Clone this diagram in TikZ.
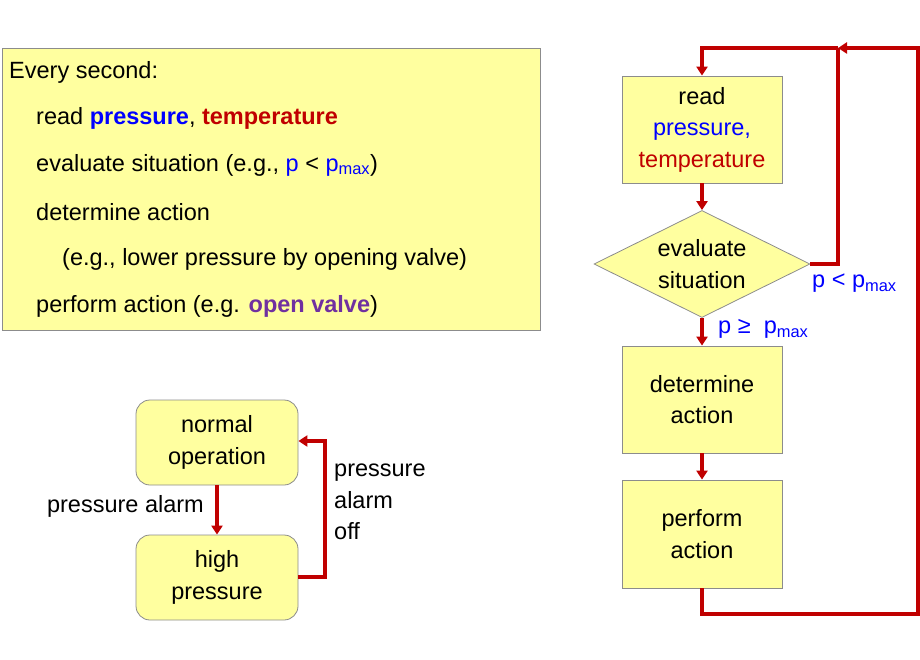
\documentclass[tikz,border=0pt]{standalone}
\usepackage{fontspec}
\setmainfont{Liberation Sans}
\usetikzlibrary{shapes.geometric,arrows.meta}
\definecolor{ybox}{HTML}{FFFF9F}
\definecolor{rline}{HTML}{C00000}
\definecolor{bl}{HTML}{0000FF}
\definecolor{pu}{HTML}{7030A0}
\begin{document}
\begin{tikzpicture}[x=1pt,y=-1pt,
  box/.style={draw=black!45,fill=ybox,line width=0.8pt},
  conn/.style={draw=rline,line width=3.2pt},
  arr/.style={conn,-{Triangle[length=9pt,width=11pt]}},
  txt/.style={font=\fontsize{23.5}{31.5}\selectfont,align=center,inner sep=0pt},
  lt/.style={font=\fontsize{23.5}{28}\selectfont,anchor=west,inner sep=0pt}]
\useasboundingbox (0,0) rectangle (920,660);
% text box
\node[box,minimum width=538pt,minimum height=282pt,inner sep=0pt] (tb) at (271,189) {};
\node[lt] (l1) at (9,72) {Every second:};
\node[lt] (l2) at (36,118) {read \textcolor{bl}{\textbf{pressure}}, \textcolor{rline}{\textbf{temperature}}};
\node[lt] (l3) at (36,165) {evaluate situation (e.g., \textcolor{bl}{p} < \textcolor{bl}{p\textsubscript{max}})};
\node[lt] (l4) at (36,212) {determine action};
\node[lt] (l5) at (62,259) {(e.g., lower pressure by opening valve)};
\node[lt] (l6) at (36,306) {perform action (e.g. \textcolor{pu}{\textbf{open valve}})};
% flowchart
\node[box,txt,minimum width=160pt,minimum height=107pt] (rd) at (702,129.5) {read\\\textcolor{bl}{pressure,}\\\textcolor{rline}{temperature}};
\node[box,txt,diamond,aspect=2.03,minimum width=216pt,minimum height=107pt,inner sep=0pt] (ev) at (702,264) {evaluate\\situation};
\node[box,txt,minimum width=160pt,minimum height=107pt] (dt) at (702,399.5) {determine\\action};
\node[box,txt,minimum width=160pt,minimum height=108pt] (pf) at (702,534) {perform\\action};
\coordinate (j) at (838,48);
\coordinate (tl) at (702,48);
\draw[arr] (rd.south) -- (ev.north);
\draw[arr] (ev.south) -- (dt.north);
\draw[arr] (dt.south) -- (pf.north);
\draw[conn] (ev.east) -| (j);
\draw[arr] (pf.south) -- (702,614) -- (918,614) -- (918,48) -- (j);
\draw[arr] (j) -- (tl) -- (rd.north);
\node[lt,text=bl] (c1) at (812,283) {p < p\textsubscript{max}};
\node[lt,text=bl] (c2) at (718,329) {p ≥ \ p\textsubscript{max}};
% state diagram
\node[box,txt,rounded corners=14pt,minimum width=162pt,minimum height=85pt] (no) at (217,442.5) {normal\\operation};
\node[box,txt,rounded corners=14pt,minimum width=162pt,minimum height=85pt] (hp) at (217,577.5) {high\\pressure};
\draw[arr] (no.south) -- (hp.north);
\node[font=\fontsize{23.5}{28}\selectfont,anchor=east,inner sep=0pt] (pa) at (204,506) {pressure alarm};
\coordinate (r1) at (325,577);
\draw[arr] (hp.east |- r1) -- (r1) -- (325,441) -- (no.east |- 0,441);
\node[font=\fontsize{23.5}{31.5}\selectfont,align=left,anchor=north west,inner sep=0pt] (po) at (334,464) {pressure\\alarm\\off};
\end{tikzpicture}
\end{document}
